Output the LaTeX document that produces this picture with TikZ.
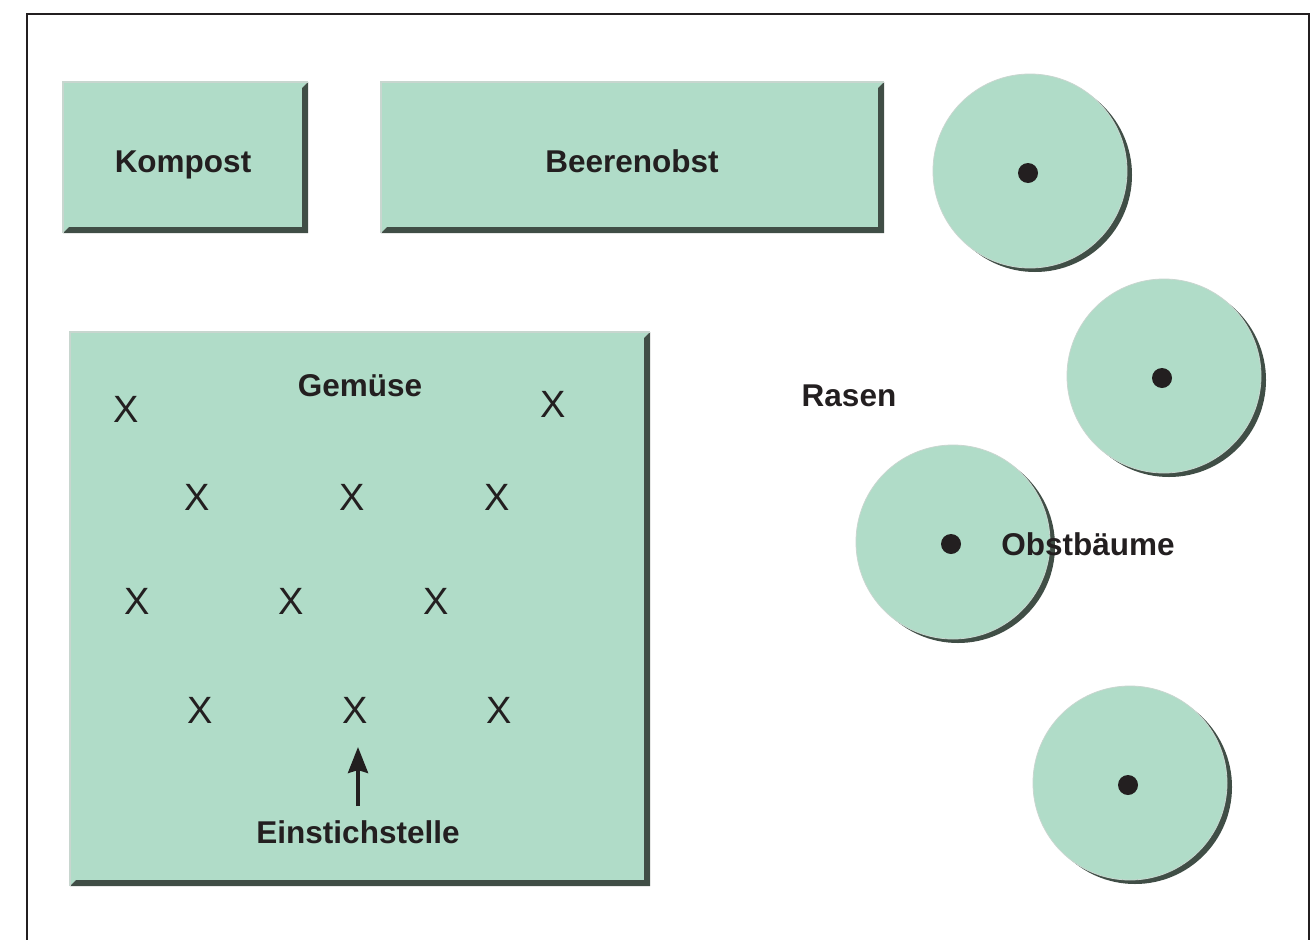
\documentclass[tikz,border=0pt]{standalone}
\usepackage{fontspec}
\setmainfont{Liberation Sans}
\usetikzlibrary{arrows.meta}
\definecolor{bedfill}{HTML}{B0DCC8}
\definecolor{bedshade}{HTML}{404E46}
\definecolor{bedrim}{HTML}{C8D6CF}
\definecolor{ink}{HTML}{231F20}
\newcommand\bevelbox[5]{%
  \fill[bedfill] (#1,#2) -- (#3,#2) -- (#3-#5,#2+#5) -- (#3-#5,#4-#5) -- (#1+#5,#4-#5) -- (#1,#4) -- cycle;
  \fill[bedshade] (#3,#2) -- (#3,#4) -- (#1,#4) -- (#1+#5,#4-#5) -- (#3-#5,#4-#5) -- (#3-#5,#2+#5) -- cycle;
  \draw[bedrim, line width=1.2pt] (#1,#4) -- (#1,#2) -- (#3,#2);}
\newcommand\treedisc[3]{%
  \fill[bedshade] (#1+5,#2+4) circle[radius=97];
  \fill[bedfill, draw=bedrim, line width=0.8pt] (#1,#2) circle[radius=97];
  \node[treedot] (#3) at (#1-2,#2+2) {};}
\tikzset{
  lbl/.style={text=ink, font=\bfseries\fontsize{31.5}{36}\selectfont, anchor=base, inner sep=0pt},
  xmark/.style={text=ink, font=\fontsize{38}{40}\selectfont, inner sep=0pt},
  treedot/.style={circle, fill=ink, minimum size=20pt, inner sep=0pt},
  frame/.style={draw=ink, line width=2.8pt},
  pointer/.style={draw=ink, line width=3.8pt, -{Stealth[length=26pt,width=20pt,inset=3pt]}}
}
\begin{document}
\begin{tikzpicture}[x=1pt,y=-1pt]
\useasboundingbox (0,0) rectangle (1315,940);
\fill[white] (0,0) rectangle (1315,940);
\draw[frame] (27,942) -- (27,14) -- (1309,14) -- (1309,942);

% beds
\bevelbox{63}{82}{308}{233}{6}
\bevelbox{381}{82}{884}{233}{6}
\bevelbox{70}{332}{650}{886}{6}

\node[lbl] (kompost) at (183,172) {Kompost};
\node[lbl] (beeren) at (632,172) {Beerenobst};
\node[lbl] (gemuese) at (360,396) {Gemüse};

% planting marks
\node[xmark] (x11) at (126,409) {X};
\node[xmark] (x12) at (553,404) {X};
\node[xmark] (x21) at (197,497) {X};
\node[xmark] (x22) at (352,497) {X};
\node[xmark] (x23) at (497,497) {X};
\node[xmark] (x31) at (137,601) {X};
\node[xmark] (x32) at (291,601) {X};
\node[xmark] (x33) at (436,601) {X};
\node[xmark] (x41) at (200,710) {X};
\node[xmark] (x42) at (355,710) {X};
\node[xmark] (x43) at (499,710) {X};

\node[lbl] (einstich) at (358,843) {Einstichstelle};
\coordinate (arrS) at (358,806);
\coordinate (arrE) at (358,747);
\draw[pointer] (arrS) -- (arrE);

% trees
\treedisc{1030}{171}{dot1}
\treedisc{1164}{376}{dot2}
\treedisc{953}{542}{dot3}
\treedisc{1130}{783}{dot4}

\node[lbl] (rasen) at (849,406) {Rasen};
\node[lbl] (obst) at (1088,555) {Obstbäume};
\end{tikzpicture}
\end{document}
